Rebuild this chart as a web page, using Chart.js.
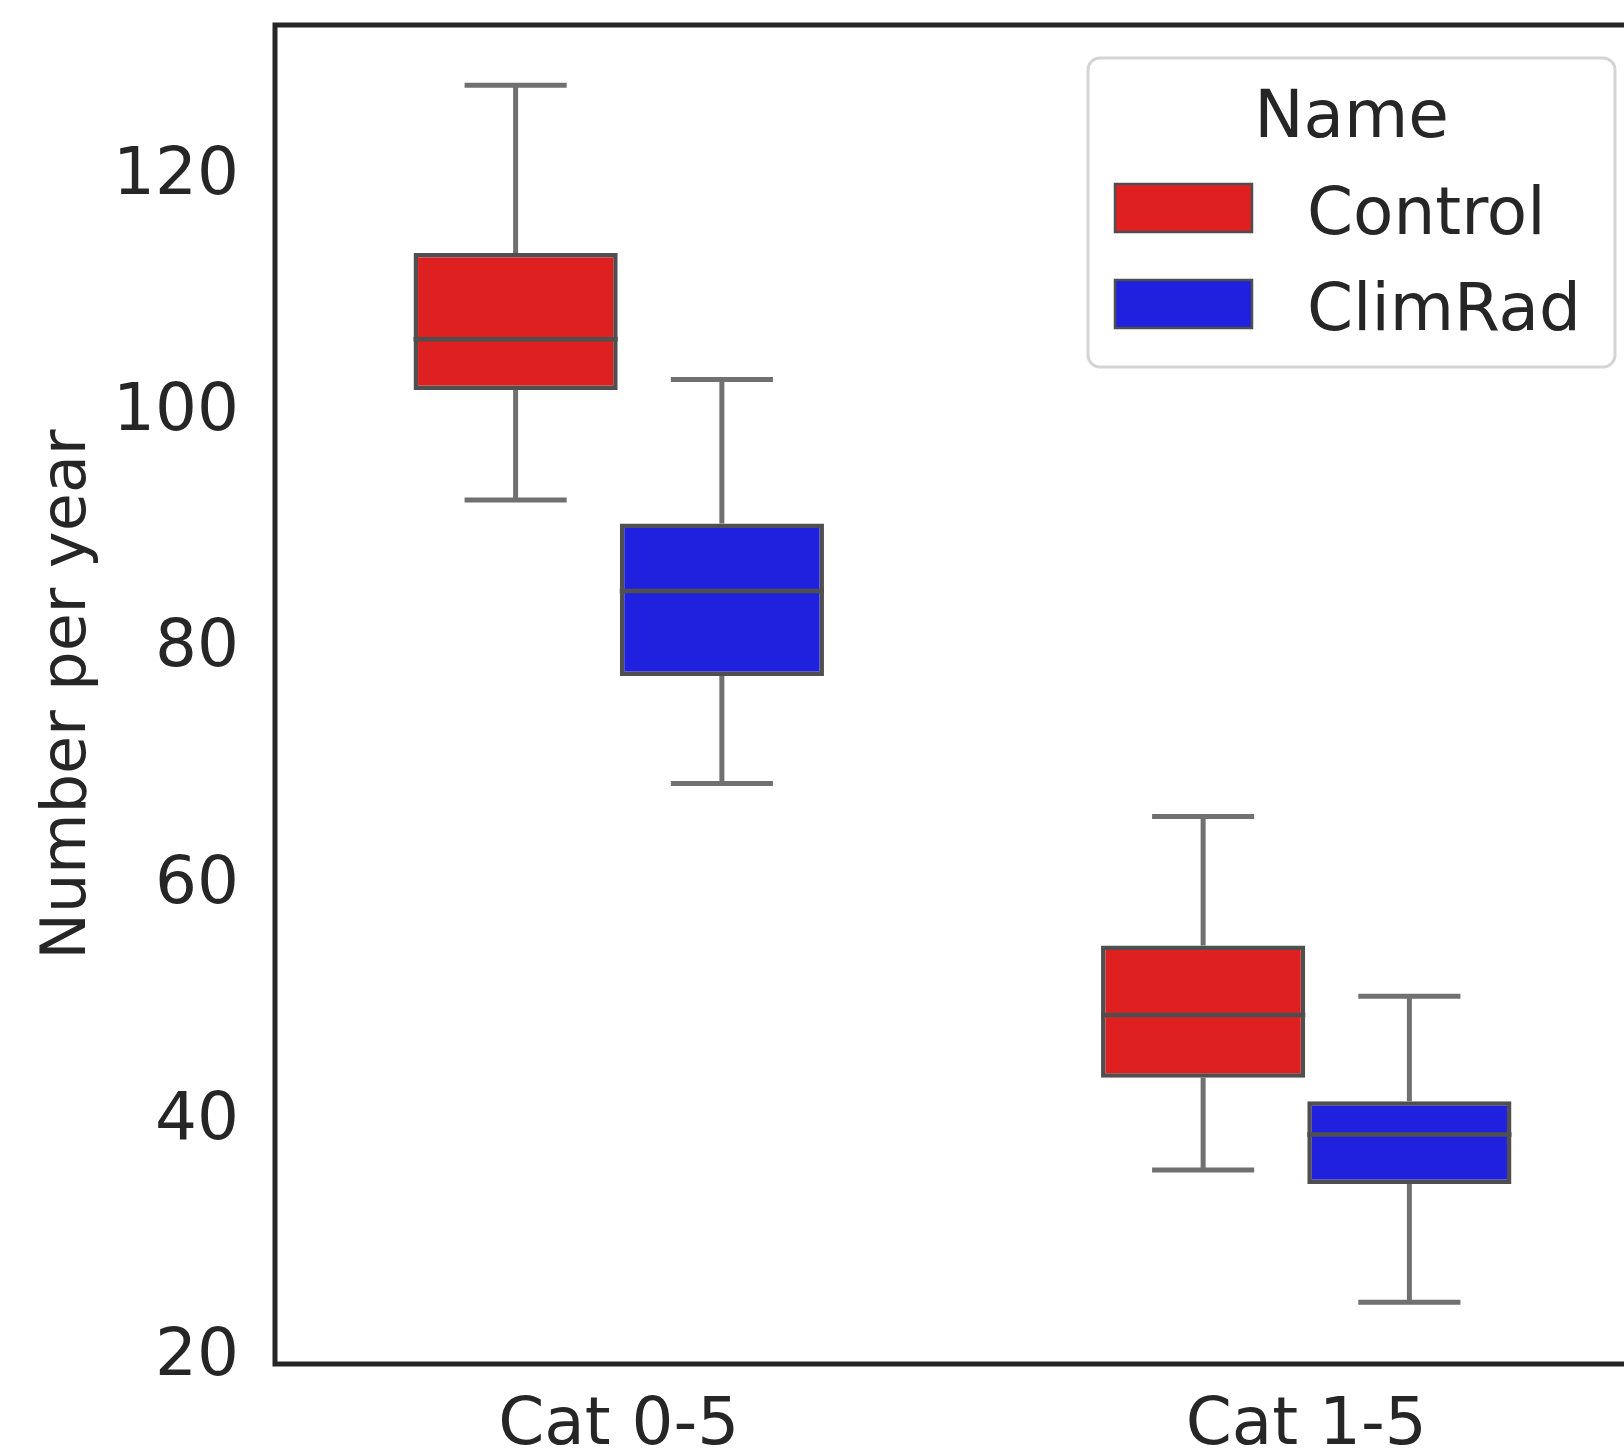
<!DOCTYPE html>
<html>
<head>
<meta charset="utf-8">
<title>Number per year</title>
<script src="https://cdn.jsdelivr.net/npm/chart.js@4.4.1/dist/chart.umd.min.js"></script>
<style>
  html, body { margin: 0; padding: 0; background: #fff; overflow: hidden; }
  #wrap { width: 1660px; height: 1455px; }
</style>
</head>
<body>
<div id="wrap"><canvas id="boxChart" width="1660" height="1455"></canvas></div>
<script>
// Categories and tick labels
const categories = ["Cat 0-5", "Cat 1-5"];
const yTicks = [20, 40, 60, 80, 100, 120];
const yMin = 19.07;
const yMax = 132.4;

// Control: whisker ends, quartiles and median per category
const controlLow = [92.2, 35.5];
const controlQ1 = [101.5, 43.3];
const controlMedian = [105.8, 48.6];
const controlQ3 = [113.1, 54.5];
const controlHigh = [127.3, 65.4];

// ClimRad
const climradLow = [68.2, 24.3];
const climradQ1 = [77.3, 34.3];
const climradMedian = [84.5, 38.5];
const climradQ3 = [90.2, 41.3];
const climradHigh = [102.4, 50.2];

const series = [
  { name: "Control", color: "#df2020", low: controlLow, q1: controlQ1, median: controlMedian, q3: controlQ3, high: controlHigh },
  { name: "ClimRad", color: "#2020df", low: climradLow, q1: climradQ1, median: climradMedian, q3: climradQ3, high: climradHigh }
];

const textColor = "#262626";
const boxEdge = "#4f4f4f";
const whiskerColor = "#707070";
const fontFamily = "'DejaVu Sans', sans-serif";

// whiskers + caps behind the boxes, medians on top
const boxParts = {
  id: "boxParts",
  beforeDatasetsDraw(chart) {
    const y = chart.scales.y;
    const ctx = chart.ctx;
    ctx.save();
    ctx.strokeStyle = whiskerColor;
    ctx.lineWidth = 5;
    series.forEach((s, i) => {
      chart.getDatasetMeta(i).data.forEach((bar, j) => {
        const half = bar.width / 4;
        const lo = y.getPixelForValue(s.low[j]);
        const hi = y.getPixelForValue(s.high[j]);
        ctx.beginPath();
        ctx.moveTo(bar.x, y.getPixelForValue(s.q1[j]));
        ctx.lineTo(bar.x, lo);
        ctx.moveTo(bar.x, y.getPixelForValue(s.q3[j]));
        ctx.lineTo(bar.x, hi);
        ctx.moveTo(bar.x - half, lo);
        ctx.lineTo(bar.x + half, lo);
        ctx.moveTo(bar.x - half, hi);
        ctx.lineTo(bar.x + half, hi);
        ctx.stroke();
      });
    });
    ctx.restore();
  },
  afterDatasetsDraw(chart) {
    const y = chart.scales.y;
    const ctx = chart.ctx;
    ctx.save();
    ctx.strokeStyle = boxEdge;
    ctx.lineWidth = 4.5;
    series.forEach((s, i) => {
      chart.getDatasetMeta(i).data.forEach((bar, j) => {
        const py = y.getPixelForValue(s.median[j]);
        ctx.beginPath();
        ctx.moveTo(bar.x - bar.width / 2, py);
        ctx.lineTo(bar.x + bar.width / 2, py);
        ctx.stroke();
      });
    });
    ctx.restore();
  }
};

// axes frame and the legend box in the upper right
const frameAndLegend = {
  id: "frameAndLegend",
  afterDraw(chart) {
    const ctx = chart.ctx;
    const a = chart.chartArea;
    ctx.save();
    ctx.strokeStyle = textColor;
    ctx.lineWidth = 5;
    ctx.strokeRect(a.left, a.top, a.right - a.left, a.bottom - a.top);

    // legend frame
    const lx = 1088, ly = 58, lw = 527, lh = 309, r = 12;
    ctx.beginPath();
    ctx.roundRect(lx, ly, lw, lh, r);
    ctx.fillStyle = "rgba(255,255,255,0.8)";
    ctx.fill();
    ctx.strokeStyle = "#d4d4d4";
    ctx.lineWidth = 3;
    ctx.stroke();

    ctx.fillStyle = textColor;
    ctx.font = "66px " + fontFamily;
    ctx.textAlign = "center";
    ctx.textBaseline = "alphabetic";
    ctx.fillText("Name", lx + lw / 2, 137);

    ctx.textAlign = "left";
    chart.data.datasets.forEach((ds, i) => {
      const top = 184 + i * 96;
      ctx.fillStyle = ds.backgroundColor;
      ctx.fillRect(1115, top, 137, 48);
      ctx.strokeStyle = boxEdge;
      ctx.lineWidth = 2.5;
      ctx.strokeRect(1115, top, 137, 48);
      ctx.fillStyle = textColor;
      ctx.fillText(ds.label, 1307, top + 50);
    });
    ctx.restore();
  }
};

new Chart(document.getElementById("boxChart"), {
  type: "bar",
  data: {
    labels: categories,
    datasets: series.map(s => ({
      label: s.name,
      data: categories.map((_, j) => [s.q1[j], s.q3[j]]),
      backgroundColor: s.color,
      borderColor: boxEdge,
      borderWidth: 4.5,
      borderSkipped: false,
      categoryPercentage: 0.6,
      barPercentage: 0.99
    }))
  },
  options: {
    responsive: false,
    animation: false,
    devicePixelRatio: 1,
    layout: { padding: { top: 25, right: 10, left: 0, bottom: 0 } },
    plugins: {
      legend: { display: false },
      tooltip: { enabled: false }
    },
    scales: {
      x: {
        grid: { display: false, drawTicks: false },
        border: { display: false },
        ticks: { color: textColor, font: { family: fontFamily, size: 66 }, padding: 23 },
        afterFit(scale) {
          scale.height = 91;
          scale.paddingLeft = 0;
          scale.paddingRight = 0;
        }
      },
      y: {
        min: yMin,
        max: yMax,
        grid: { display: false, drawTicks: false },
        border: { display: false },
        ticks: { color: textColor, font: { family: fontFamily, size: 66 }, padding: 36, labelOffset: 5 },
        afterBuildTicks(scale) { scale.ticks = yTicks.map(v => ({ value: v })); },
        afterFit(scale) {
          scale.width = 275;
          scale.paddingTop = 0;
          scale.paddingBottom = 0;
        },
        title: {
          display: true,
          text: "Number per year",
          color: textColor,
          font: { family: fontFamily, size: 62 },
          padding: { top: 32, bottom: 0 }
        }
      }
    }
  },
  plugins: [boxParts, frameAndLegend]
});
</script>
</body>
</html>
